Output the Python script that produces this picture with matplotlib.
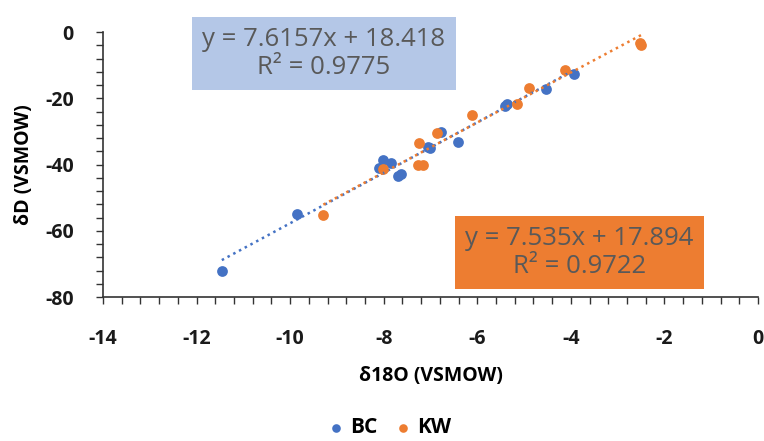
import matplotlib.pyplot as plt
import numpy as np

# BC series (d18O, dD)
bc_x = [-11.46, -9.85, -8.01, -7.85, -8.10, -7.70, -7.62, -7.00, -7.05,
        -6.78, -6.41, -5.40, -5.36, -4.53, -3.94]
bc_y = [-72.2, -55.0, -38.7, -39.5, -41.0, -43.4, -42.8, -35.0, -34.6,
        -30.3, -33.2, -22.2, -21.8, -17.3, -12.8]

# KW series
kw_x = [-9.29, -8.01, -7.26, -7.17, -7.25, -6.86, -6.11, -5.16, -4.90,
        -4.12, -2.53, -2.50]
kw_y = [-55.1, -41.5, -40.0, -40.0, -33.5, -30.6, -25.0, -21.6, -17.0,
        -11.6, -3.2, -3.8]

# trendline coefficients as printed on the chart
bc_fit = (7.6157, 18.418, 0.9775)
kw_fit = (7.535, 17.894, 0.9722)

BLUE = "#4472C4"
ORANGE = "#ED7D31"
TICK_KW = dict(fontsize=14, fontweight="bold", color="#1a1a1a")

plt.rcParams["font.family"] = ["Open Sans", "DejaVu Sans"]

fig = plt.figure(figsize=(7.64, 4.41), dpi=100)
ax = fig.add_axes([0.1348, 0.3265, 0.8573, 0.6009])

ax.scatter(bc_x, bc_y, s=60, color=BLUE, zorder=3, label="BC", linewidths=0)
ax.scatter(kw_x, kw_y, s=60, color=ORANGE, zorder=3, label="KW", linewidths=0)

for xs, (m, b, _), c in ((bc_x, bc_fit, BLUE), (kw_x, kw_fit, ORANGE)):
    xx = np.array([min(xs), max(xs)])
    ax.plot(xx, m * xx + b, color=c, lw=1.8, linestyle=(0, (1, 1.6)), zorder=4)

ax.set_xlim(-14, 0)
ax.set_ylim(-80, 0)
ax.set_xticks(np.arange(-14, 1, 2))
ax.set_yticks(np.arange(-80, 1, 20))
ax.set_xticks(np.arange(-14, 0.01, 0.4), minor=True)
ax.set_yticks(np.arange(-80, 0.01, 4), minor=True)
ax.set_xticklabels([f"{v:d}" for v in range(-14, 1, 2)], **TICK_KW)
ax.set_yticklabels([f"{v:d}" for v in range(-80, 1, 20)], **TICK_KW)
ax.tick_params(which="both", direction="out", length=5, width=1, color="#333333")
ax.tick_params(axis="x", pad=18)
ax.tick_params(axis="y", pad=16)
for side in ("top", "right"):
    ax.spines[side].set_visible(False)
for side in ("left", "bottom"):
    ax.spines[side].set_color("#333333")
    ax.spines[side].set_linewidth(1.2)

ax.set_xlabel("δ18O (VSMOW)", fontsize=14, fontweight="bold", labelpad=12)
ax.set_ylabel("δD (VSMOW)", fontsize=14, fontweight="bold", labelpad=8)

# equation boxes
def eq_text(fit):
    m, b, r2 = fit
    return f"y = {m:g}x + {b:g}\nR² = {r2:g}"

fig.text(0.424, 0.879, eq_text(bc_fit), ha="center", va="center", fontsize=18.5,
         color="#595959", linespacing=1.15,
         bbox=dict(boxstyle="square,pad=0.4", fc="#B4C7E7", ec="none"))
fig.text(0.7585, 0.427, eq_text(kw_fit), ha="center", va="center", fontsize=18.5,
         color="#595959", linespacing=1.15,
         bbox=dict(boxstyle="square,pad=0.4", fc=ORANGE, ec="none"))

leg = fig.legend(loc="center", bbox_to_anchor=(0.51, 0.03), ncol=2, frameon=False,
                 handletextpad=0.3, columnspacing=0.8, markerscale=0.8,
                 prop=dict(size=15, weight="bold"), handlelength=0.8)

fig.savefig("out.png", dpi=100)
